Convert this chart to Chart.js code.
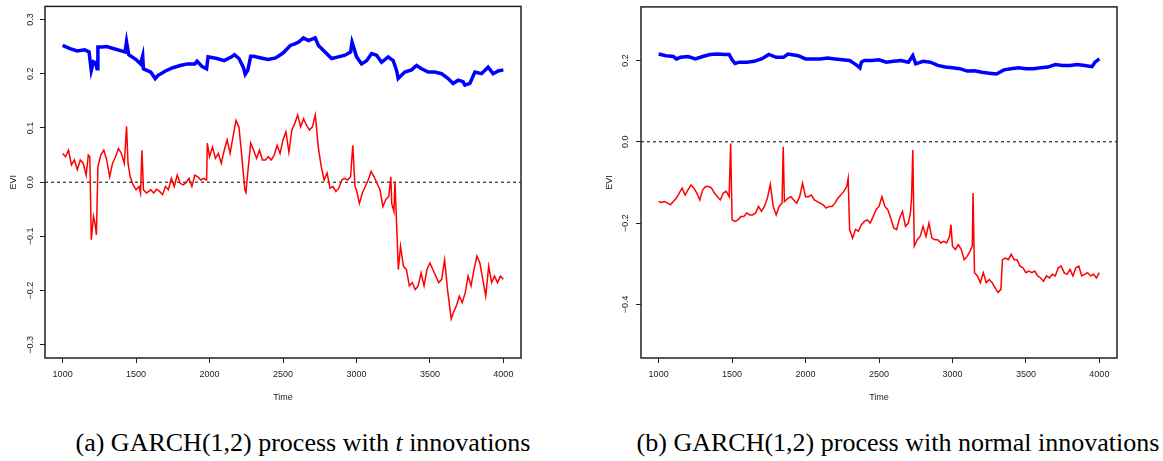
<!DOCTYPE html>
<html><head><meta charset="utf-8">
<script src="https://cdn.jsdelivr.net/npm/chart.js"></script>
<style>
html,body{margin:0;padding:0;background:#fff;}
body{width:1163px;height:461px;position:relative;overflow:hidden;}
canvas{position:absolute;top:0;}
.cap{position:absolute;top:429px;height:28px;line-height:28px;text-align:center;font-family:"Liberation Serif","DejaVu Serif",serif;font-size:26px;color:#000;white-space:nowrap;}
</style></head>
<body>
<canvas id="ca" width="580" height="410" style="left:0"></canvas>
<canvas id="cb" width="583" height="410" style="left:580px"></canvas>
<div class="cap" style="left:0;width:606px">(a) GARCH(1,2) process with <i>t</i> innovations</div>
<div class="cap" style="left:600px;width:596px">(b) GARCH(1,2) process with normal innovations</div>
<script>
// ---- data (time, EVI) ----
const xTicks = [1000, 1500, 2000, 2500, 3000, 3500, 4000];
const aYTicks = [0.3, 0.2, 0.1, 0.0, -0.1, -0.2, -0.3];
const bYTicks = [0.2, 0.0, -0.2, -0.4];
const refLine = [0];

const aBlue = [[1000,0.252],[1050,0.246],[1100,0.242],[1150,0.244],[1180,0.240],[1195,0.206],[1210,0.222],[1225,0.220],[1234,0.209],[1240,0.249],[1270,0.249],[1300,0.250],[1350,0.246],[1400,0.242],[1425,0.240],[1435,0.259],[1450,0.235],[1500,0.226],[1530,0.218],[1545,0.233],[1550,0.209],[1600,0.203],[1630,0.191],[1650,0.197],[1700,0.205],[1750,0.211],[1800,0.215],[1850,0.218],[1900,0.218],[1915,0.223],[1950,0.213],[1980,0.209],[1990,0.231],[2050,0.228],[2100,0.224],[2150,0.231],[2170,0.235],[2200,0.228],[2230,0.212],[2243,0.199],[2260,0.206],[2280,0.232],[2300,0.232],[2350,0.229],[2400,0.226],[2450,0.229],[2500,0.238],[2550,0.252],[2580,0.255],[2605,0.258],[2639,0.266],[2673,0.261],[2719,0.266],[2741,0.252],[2786,0.240],[2831,0.228],[2877,0.231],[2922,0.234],[2960,0.240],[2970,0.258],[3001,0.231],[3035,0.218],[3069,0.224],[3103,0.237],[3137,0.234],[3171,0.221],[3216,0.231],[3250,0.224],[3273,0.206],[3284,0.191],[3329,0.203],[3375,0.207],[3409,0.215],[3443,0.209],[3488,0.203],[3533,0.203],[3579,0.200],[3624,0.191],[3658,0.182],[3692,0.188],[3726,0.185],[3738,0.179],[3772,0.182],[3806,0.203],[3851,0.200],[3896,0.212],[3930,0.200],[3964,0.205],[4000,0.207]];

const aRed = [[1000,0.053],[1020,0.047],[1040,0.059],[1060,0.032],[1080,0.041],[1100,0.023],[1120,0.041],[1140,0.035],[1160,0.013],[1175,0.050],[1185,0.047],[1195,-0.106],[1210,-0.063],[1220,-0.075],[1230,-0.097],[1240,0.029],[1260,0.050],[1280,0.059],[1300,0.041],[1320,0.010],[1340,0.035],[1360,0.047],[1380,0.062],[1400,0.053],[1420,0.035],[1435,0.103],[1445,0.035],[1460,0.010],[1480,-0.005],[1500,-0.014],[1520,-0.008],[1530,-0.020],[1540,0.059],[1550,-0.014],[1570,-0.020],[1600,-0.014],[1620,-0.020],[1640,-0.013],[1660,-0.017],[1680,-0.023],[1700,-0.008],[1720,-0.014],[1740,0.007],[1760,-0.008],[1780,0.013],[1800,-0.002],[1820,-0.005],[1840,-0.001],[1860,0.007],[1880,-0.008],[1900,0.013],[1920,0.010],[1940,0.004],[1960,0.007],[1980,0.004],[1985,0.072],[2000,0.047],[2020,0.065],[2040,0.044],[2060,0.053],[2080,0.035],[2100,0.059],[2120,0.078],[2140,0.053],[2160,0.084],[2180,0.114],[2200,0.102],[2220,0.047],[2240,-0.014],[2248,-0.019],[2260,0.017],[2280,0.072],[2300,0.059],[2320,0.044],[2340,0.059],[2360,0.041],[2380,0.041],[2400,0.047],[2420,0.041],[2440,0.050],[2460,0.068],[2480,0.053],[2500,0.078],[2520,0.093],[2540,0.055],[2560,0.096],[2580,0.108],[2600,0.124],[2620,0.102],[2640,0.117],[2660,0.105],[2680,0.096],[2700,0.102],[2720,0.124],[2740,0.065],[2760,0.029],[2780,0.004],[2800,0.017],[2820,-0.011],[2840,-0.008],[2860,-0.017],[2880,-0.011],[2900,0.004],[2920,0.007],[2940,0.004],[2960,0.010],[2975,0.068],[2990,-0.008],[3000,-0.014],[3020,-0.039],[3040,-0.020],[3060,-0.008],[3080,0.004],[3100,0.020],[3120,0.010],[3140,-0.002],[3160,-0.014],[3180,-0.045],[3200,-0.032],[3220,-0.026],[3234,0.010],[3240,-0.039],[3255,-0.054],[3262,0.001],[3270,-0.054],[3285,-0.161],[3300,-0.118],[3320,-0.155],[3340,-0.161],[3360,-0.191],[3380,-0.185],[3400,-0.198],[3420,-0.191],[3440,-0.167],[3460,-0.191],[3480,-0.161],[3500,-0.149],[3520,-0.161],[3540,-0.173],[3560,-0.185],[3580,-0.179],[3600,-0.143],[3620,-0.198],[3645,-0.252],[3660,-0.240],[3680,-0.228],[3700,-0.210],[3720,-0.222],[3740,-0.204],[3760,-0.173],[3780,-0.191],[3800,-0.161],[3820,-0.136],[3840,-0.149],[3860,-0.179],[3880,-0.210],[3900,-0.155],[3920,-0.185],[3940,-0.173],[3960,-0.185],[3980,-0.173],[4000,-0.179]];

const bBlue = [[1000,0.216],[1050,0.212],[1100,0.210],[1120,0.204],[1150,0.208],[1200,0.210],[1250,0.204],[1300,0.210],[1350,0.215],[1400,0.216],[1450,0.215],[1480,0.215],[1500,0.202],[1520,0.193],[1550,0.196],[1600,0.196],[1650,0.198],[1700,0.204],[1720,0.208],[1750,0.215],[1800,0.208],[1850,0.208],[1880,0.216],[1900,0.215],[1950,0.212],[2000,0.204],[2050,0.204],[2100,0.204],[2150,0.206],[2200,0.204],[2250,0.202],[2300,0.200],[2330,0.193],[2350,0.188],[2370,0.182],[2380,0.196],[2400,0.200],[2450,0.200],[2500,0.202],[2550,0.196],[2600,0.198],[2650,0.200],[2700,0.196],[2730,0.212],[2750,0.192],[2800,0.198],[2850,0.196],[2900,0.188],[2950,0.184],[3000,0.182],[3050,0.180],[3100,0.174],[3150,0.175],[3200,0.171],[3250,0.169],[3300,0.167],[3350,0.177],[3400,0.180],[3450,0.182],[3500,0.180],[3550,0.180],[3600,0.182],[3650,0.184],[3700,0.190],[3750,0.188],[3800,0.188],[3850,0.190],[3900,0.188],[3950,0.185],[3970,0.196],[4000,0.204]];

const bRed = [[1000,-0.147],[1020,-0.149],[1040,-0.147],[1060,-0.151],[1080,-0.155],[1100,-0.147],[1120,-0.139],[1140,-0.126],[1160,-0.114],[1180,-0.131],[1200,-0.118],[1220,-0.106],[1240,-0.114],[1260,-0.126],[1280,-0.143],[1300,-0.118],[1320,-0.110],[1340,-0.110],[1360,-0.114],[1380,-0.126],[1400,-0.135],[1420,-0.143],[1440,-0.126],[1460,-0.122],[1480,-0.135],[1490,-0.004],[1500,-0.192],[1520,-0.196],[1540,-0.192],[1560,-0.184],[1580,-0.184],[1600,-0.175],[1620,-0.180],[1640,-0.180],[1660,-0.175],[1680,-0.159],[1700,-0.171],[1720,-0.159],[1740,-0.139],[1760,-0.105],[1780,-0.159],[1800,-0.180],[1820,-0.159],[1840,-0.151],[1848,-0.012],[1856,-0.147],[1880,-0.139],[1900,-0.135],[1920,-0.143],[1940,-0.151],[1960,-0.135],[1980,-0.102],[2000,-0.135],[2020,-0.135],[2040,-0.131],[2060,-0.143],[2080,-0.147],[2100,-0.151],[2120,-0.155],[2140,-0.163],[2160,-0.159],[2180,-0.159],[2200,-0.151],[2220,-0.139],[2240,-0.131],[2260,-0.122],[2280,-0.110],[2290,-0.090],[2300,-0.216],[2320,-0.237],[2340,-0.216],[2360,-0.220],[2380,-0.204],[2400,-0.196],[2420,-0.192],[2440,-0.200],[2460,-0.184],[2480,-0.167],[2500,-0.159],[2520,-0.135],[2540,-0.159],[2560,-0.167],[2580,-0.188],[2600,-0.212],[2620,-0.216],[2640,-0.188],[2660,-0.171],[2680,-0.208],[2700,-0.200],[2715,-0.171],[2722,-0.135],[2730,-0.020],[2740,-0.257],[2760,-0.241],[2780,-0.233],[2800,-0.208],[2820,-0.233],[2840,-0.200],[2860,-0.237],[2880,-0.241],[2900,-0.241],[2920,-0.249],[2940,-0.245],[2960,-0.249],[2980,-0.233],[2990,-0.204],[3000,-0.257],[3020,-0.265],[3040,-0.253],[3060,-0.265],[3080,-0.290],[3100,-0.282],[3120,-0.269],[3135,-0.257],[3140,-0.126],[3150,-0.322],[3170,-0.330],[3190,-0.347],[3210,-0.322],[3230,-0.347],[3250,-0.339],[3270,-0.347],[3290,-0.359],[3310,-0.371],[3330,-0.363],[3340,-0.290],[3360,-0.286],[3380,-0.290],[3400,-0.277],[3420,-0.290],[3440,-0.290],[3460,-0.306],[3480,-0.310],[3500,-0.322],[3520,-0.318],[3540,-0.322],[3560,-0.318],[3580,-0.330],[3600,-0.335],[3620,-0.343],[3640,-0.330],[3660,-0.335],[3680,-0.326],[3700,-0.330],[3720,-0.310],[3740,-0.306],[3760,-0.322],[3780,-0.326],[3800,-0.314],[3820,-0.330],[3840,-0.310],[3860,-0.306],[3880,-0.330],[3900,-0.326],[3920,-0.322],[3940,-0.330],[3960,-0.326],[3980,-0.335],[4000,-0.322]];

// ---- drawing ----
const TICK_FONT = {family: '"Liberation Sans Narrow","Liberation Sans",Arial,sans-serif', size: 9};
const fmtY = v => (v < 0 ? '\u2212' : '') + Math.abs(v).toFixed(1);
const toXY = arr => arr.map(p => ({x: p[0], y: p[1]}));

const boxPlugin = {
  id: 'box',
  afterDraw(chart) {
    const a = chart.chartArea, c = chart.ctx;
    c.save(); c.strokeStyle = '#222'; c.lineWidth = 1.5;
    c.strokeRect(a.left, a.top, a.right - a.left, a.bottom - a.top);
    c.restore();
  }
};

function makeChart(id, blue, red, yMin, yMax, yTicks, axisW, padRight, yLabPad, evPad) {
  return new Chart(document.getElementById(id), {
    type: 'line',
    data: {
      datasets: [
        {data: toXY(blue), borderColor: '#0000ff', borderWidth: 3.5, pointRadius: 0, tension: 0, borderJoinStyle: 'miter'},
        {data: toXY(red), borderColor: '#ff0000', borderWidth: 1.5, pointRadius: 0, tension: 0},
        {data: [{x: 880, y: refLine[0]}, {x: 4120, y: refLine[0]}], borderColor: '#000', borderWidth: 1, borderDash: [3, 3], pointRadius: 0}
      ]
    },
    options: {
      responsive: false, animation: false, devicePixelRatio: 1,
      layout: {padding: {top: 6, right: padRight, left: 0, bottom: 0}},
      plugins: {legend: {display: false}, tooltip: {enabled: false}},
      scales: {
        x: {
          type: 'linear', min: 880, max: 4120,
          afterBuildTicks: s => { s.ticks = xTicks.map(v => ({value: v})); },
          afterFit: s => { s.height = 52; },
          grid: {display: true, drawOnChartArea: false, drawTicks: true, tickLength: 5, tickColor: '#222', tickWidth: 1},
          border: {display: false},
          ticks: {font: TICK_FONT, color: '#222', padding: 6, maxRotation: 0, minRotation: 0, autoSkip: false, callback: v => String(v)},
          title: {display: true, text: 'Time', font: TICK_FONT, color: '#222', padding: {top: 0, bottom: 7}}
        },
        y: {
          min: yMin, max: yMax,
          afterBuildTicks: s => { s.ticks = yTicks.map(v => ({value: v})); },
          afterFit: s => { s.width = axisW; },
          grid: {display: true, drawOnChartArea: false, drawTicks: true, tickLength: 5, tickColor: '#222', tickWidth: 1},
          border: {display: false},
          ticks: {font: TICK_FONT, color: '#222', padding: yLabPad, minRotation: 90, maxRotation: 90, crossAlign: 'center', autoSkip: false, callback: v => fmtY(v)},
          title: {display: true, text: 'EVI', font: TICK_FONT, color: '#222', padding: {top: evPad, bottom: 0}}
        }
      }
    },
    plugins: [boxPlugin]
  });
}

makeChart('ca', aBlue, aRed, -0.324, 0.324, aYTicks, 45, 59, 1, 8);
makeChart('cb', bBlue, bRed, -0.532, 0.332, bYTicks, 61, 46, 1.5, 24);
</script>
</body></html>
